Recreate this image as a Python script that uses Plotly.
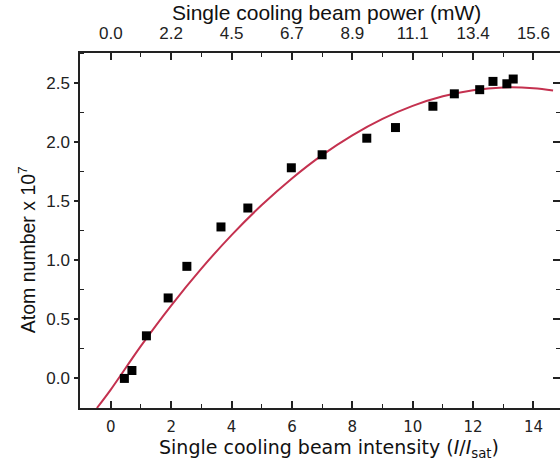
import plotly.graph_objects as go

# measured data
intensity = [0.45, 0.70, 1.18, 1.90, 2.52, 3.65, 4.54, 5.98, 7.00, 8.48, 9.43,
             10.67, 11.38, 12.22, 12.66, 13.12, 13.33]
atoms = [0.00, 0.067, 0.36, 0.68, 0.947, 1.28, 1.44, 1.78, 1.89, 2.03, 2.12,
         2.30, 2.405, 2.44, 2.51, 2.49, 2.53]

# fit curve
fit_x = [-0.46, 0, 1, 2, 3, 4, 5, 6, 7, 8, 9, 10, 11, 12, 13, 14, 14.65]
fit_y = [-0.25, -0.094, 0.275, 0.616, 0.928, 1.211, 1.465, 1.690, 1.887,
         2.054, 2.193, 2.303, 2.384, 2.436, 2.459, 2.453, 2.434]

x_ticks = [0, 2, 4, 6, 8, 10, 12, 14]
x_ticktext = ["0", "2", "4", "6", "8", "10", "12", "14"]
top_ticktext = ["0.0", "2.2", "4.5", "6.7", "8.9", "11.1", "13.4", "15.6"]
y_ticks = [0.0, 0.5, 1.0, 1.5, 2.0, 2.5]
y_ticktext = ["0.0", "0.5", "1.0", "1.5", "2.0", "2.5"]

XR = [-1.02, 14.88]
YR = [-0.25, 2.75]
AX = "#222222"
ARIAL = "Liberation Sans, Arial"
DV = "DejaVu Sans, Verdana"

fig = go.Figure()
fig.add_trace(go.Scatter(x=fit_x, y=fit_y, mode="lines", line=dict(color="#c4314f", width=2),
                         line_shape="spline", showlegend=False, hoverinfo="skip"))
fig.add_trace(go.Scatter(x=intensity, y=atoms, mode="markers",
                         marker=dict(symbol="square", size=9, color="black"),
                         showlegend=False))
# anchors for secondary axes
fig.add_trace(go.Scatter(x=[None], y=[None], xaxis="x2", yaxis="y", showlegend=False))
fig.add_trace(go.Scatter(x=[None], y=[None], xaxis="x", yaxis="y2", showlegend=False))

minor_x = [1, 3, 5, 7, 9, 11, 13]
minor_y = [-0.25, 0.25, 0.75, 1.25, 1.75, 2.25, 2.75]

fig.update_layout(
    width=560, height=463,
    margin=dict(l=80, r=0, t=53, b=55),
    plot_bgcolor="white", paper_bgcolor="white",
    xaxis=dict(range=XR, tickmode="array", tickvals=x_ticks, ticktext=x_ticktext,
               ticks="inside", ticklen=7, tickwidth=1.5, tickcolor=AX, automargin=False,
               showline=True, linecolor=AX, linewidth=1.5, showgrid=False, zeroline=False,
               tickfont=dict(family=DV, size=15, color="#222"), ticklabelstandoff=4,
               minor=dict(tickvals=minor_x, ticks="inside", ticklen=4,
                          tickwidth=1.2, tickcolor=AX, showgrid=False)),
    xaxis2=dict(range=XR, overlaying="x", side="top", anchor="y", tickmode="array",
                tickvals=x_ticks, ticktext=top_ticktext, automargin=False,
                ticks="inside", ticklen=7, tickwidth=1.5, tickcolor=AX,
                showline=True, linecolor=AX, linewidth=1.5, showgrid=False, zeroline=False,
                tickfont=dict(family=ARIAL, size=17, color="#222"), ticklabelstandoff=5,
                minor=dict(tickvals=minor_x, ticks="inside", ticklen=4,
                           tickwidth=1.2, tickcolor=AX, showgrid=False)),
    yaxis=dict(range=YR, tickmode="array", tickvals=y_ticks, ticktext=y_ticktext,
               ticks="outside", ticklen=4, tickwidth=1.5, tickcolor=AX, automargin=False,
               showline=True, linecolor=AX, linewidth=1.5, showgrid=False, zeroline=False,
               tickfont=dict(family=ARIAL, size=17, color="#222"), ticklabelstandoff=1,
               minor=dict(tickvals=minor_y, ticks="inside",
                          ticklen=4, tickwidth=1.2, tickcolor=AX, showgrid=False)),
    yaxis2=dict(range=YR, overlaying="y", side="right", anchor="x", tickmode="array",
                tickvals=y_ticks, showticklabels=False, automargin=False,
                ticks="inside", ticklen=7, tickwidth=1.5, tickcolor=AX,
                showline=True, linecolor=AX, linewidth=1.5, showgrid=False, zeroline=False,
                minor=dict(tickvals=minor_y, ticks="inside",
                           ticklen=4, tickwidth=1.2, tickcolor=AX, showgrid=False)),
    annotations=[
        dict(text="Single cooling beam power (mW)", xref="paper", yref="paper",
             x=0.5135, y=1.113, xanchor="center", yanchor="middle", showarrow=False,
             font=dict(family=ARIAL, size=21, color="#111")),
        dict(text="Single cooling beam intensity (<i>I</i>/<i>I</i><sub>sat</sub>)",
             xref="paper", yref="paper", x=0.519, y=-0.115, xanchor="center",
             yanchor="middle", showarrow=False,
             font=dict(family=DV, size=19, color="#111")),
        dict(text="Atom number x 10<sup>7</sup>", xref="paper", yref="paper",
             x=-0.11, y=0.445, xanchor="center", yanchor="middle", textangle=-90,
             showarrow=False, font=dict(family=ARIAL, size=19.5, color="#111")),
    ],
)

fig.write_html("out.html", config={"displayModeBar": False},
               post_script="document.body.style.margin='0';document.body.style.overflow='hidden';")
